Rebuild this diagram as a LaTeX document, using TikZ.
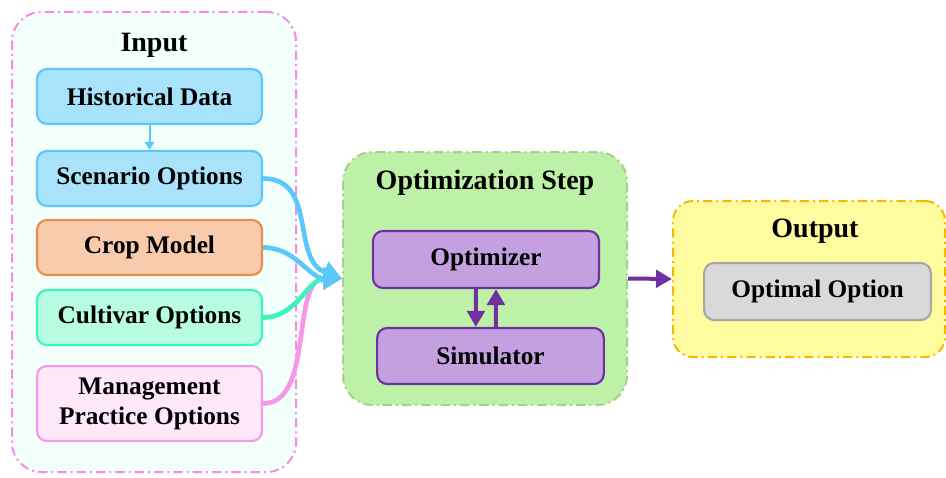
\documentclass[tikz,border=0pt]{standalone}
\usepackage{fontspec}
\setmainfont{Liberation Serif}
\usetikzlibrary{arrows.meta}

\definecolor{inputfill}{HTML}{F2FFFA}
\definecolor{inputline}{HTML}{F78BE0}
\definecolor{skyfill}{HTML}{A9E3FB}
\definecolor{skyline}{HTML}{5AC8F8}
\definecolor{cropfill}{HTML}{F8CBAD}
\definecolor{cropline}{HTML}{ED8B48}
\definecolor{cultfill}{HTML}{B8FCE2}
\definecolor{cultline}{HTML}{3CF2BF}
\definecolor{mgmtfill}{HTML}{FDE7F8}
\definecolor{mgmtline}{HTML}{F599E6}
\definecolor{optfill}{HTML}{BEF1A8}
\definecolor{optline}{HTML}{A8CF8E}
\definecolor{purplefill}{HTML}{C5A0E0}
\definecolor{purpleline}{HTML}{7030A0}
\definecolor{outfill}{HTML}{FEFC9E}
\definecolor{outline}{HTML}{F7B900}
\definecolor{greyfill}{HTML}{D9D9D9}
\definecolor{greyline}{HTML}{A6A6A6}

\begin{document}
\begin{tikzpicture}[x=0.75pt,y=-0.75pt,
    font=\bfseries\fontsize{19}{22.5}\selectfont,
    group/.style={rounded corners=22pt,line width=1.5pt,
        dash pattern=on 7pt off 3pt on 1.5pt off 3pt},
    title/.style={font=\bfseries\fontsize{21}{24}\selectfont},
    item/.style={rounded corners=7.5pt,line width=1.6pt,align=center,
        minimum width=168.75pt,minimum height=41.25pt},
    feed/.style={line width=3.5pt,-{Triangle[length=14pt,width=16pt]}},
    flow/.style={purpleline,line width=3pt,-{Triangle[length=12pt,width=13pt]}}]
    \useasboundingbox (0,0) rectangle (946,478);
    % containers
    \node (input) at (154,242) [group,draw=inputline,fill=inputfill,minimum width=213pt,minimum height=345pt] {};
    \node (optim) at (485,278.5) [group,draw=optline,fill=optfill,minimum width=213pt,minimum height=189.75pt] {};
    \node (output) at (809,279) [group,rounded corners=15pt,draw=outline,fill=outfill,minimum width=204pt,minimum height=117pt] {};
    \node[title] (inputtitle) at (154,45) {Input};
    \node[title] (optimtitle) at (485,183) {Optimization Step};
    \node[title] (outputtitle) at (815,231) {Output};
    % input items
    \node[item,draw=skyline,fill=skyfill] (hist) at (149.5,96.5) {Historical Data};
    \node[item,draw=skyline,fill=skyfill] (scen) at (149.5,178.5) {Scenario Options};
    \node[item,draw=cropline,fill=cropfill] (crop) at (149.5,247.5) {Crop Model};
    \node[item,draw=cultline,fill=cultfill] (cult) at (149.5,317.5) {Cultivar Options};
    \node[item,draw=mgmtline,fill=mgmtfill,minimum height=56.25pt] (mgmt) at (149.5,403.5) {Management\\Practice Options};
    % optimization step
    \node[item,draw=purpleline,fill=purplefill,minimum width=169.5pt,minimum height=42.75pt] (optimizer) at (486,259.5) {Optimizer};
    \node[item,draw=purpleline,fill=purplefill,minimum width=170pt,minimum height=42pt] (simulator) at (490.5,356) {Simulator};
    % output
    \node[item,draw=greyline,fill=greyfill,minimum width=170pt,minimum height=42.75pt] (best) at (817.5,291.5) {Optimal Option};
    % connectors
    \draw[skyline,line width=1.5pt,-{Triangle[length=6pt,width=7pt]}] (hist) -- (scen);
    \draw[feed,mgmtline] (mgmt.east) to[out=0,in=180,looseness=0.9] (optim.west);
    \draw[feed,cultline] (cult.east) to[out=0,in=180] (optim.west);
    \draw[feed,skyline] (crop.east) to[out=0,in=180] (optim.west);
    \draw[feed,skyline] (scen.east) to[out=0,in=160,looseness=1.1] (optim.west);
    \draw[flow] ([xshift=-7.5pt]optimizer.south) -- ([xshift=-11pt]simulator.north);
    \draw[flow] ([xshift=4pt]simulator.north) -- ([xshift=7.5pt]optimizer.south);
    \draw[flow] (optim.east) -- (output.west);
\end{tikzpicture}
\end{document}
